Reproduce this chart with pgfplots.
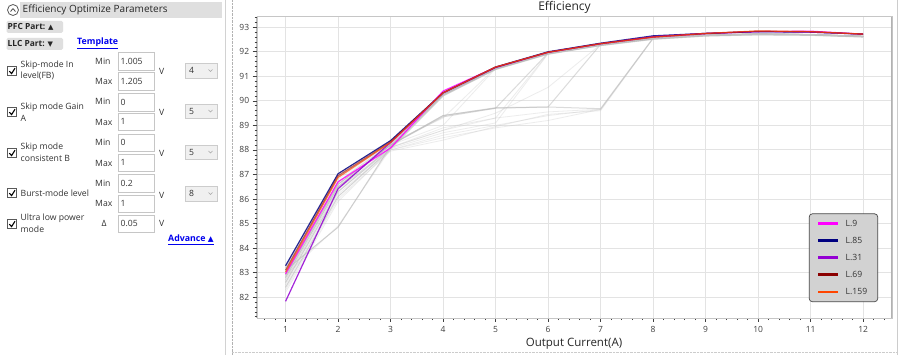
\documentclass[border=0pt]{standalone}
\usepackage{fontspec}
\usepackage{pgfplots}
\pgfplotsset{compat=1.18}
\setmainfont{Open Sans}
\newfontfamily\sym{DejaVu Sans}
\newcommand\fs[1]{\fontsize{#1}{#1}\selectfont}
\definecolor{cL9}{HTML}{FF00FF}
\definecolor{cL85}{HTML}{000080}
\definecolor{cL31}{HTML}{9400D3}
\definecolor{cL69}{HTML}{8B0000}
\definecolor{cL159}{HTML}{FF4500}
\definecolor{linkblue}{HTML}{0000EE}
\newcommand\chk[1]{%
  \draw[gray!70!black,fill=white] (7.5,#1-4.5) rectangle (16.5,#1+4.5);
  \draw[black,line width=1.1pt] (9.3,#1+0.2) -- (11.6,#1+2.6) -- (15,#1-2.8);}
\newcommand\tbox[3]{% y1 y2 text
  \draw[gray!45,fill=white] (118,#1) rectangle (154,#2);
  \node[anchor=west,font=\fs{8.6},text=black!80,inner sep=0] at (120.5,{(#1+#2)/2}) {#3};}
\newcommand\ddown[3]{% y1 y2 text
  \draw[gray!40,fill=gray!12] (185,#1) rectangle (217,#2);
  \node[anchor=west,font=\fs{8.6},text=black!80,inner sep=0] at (189,{(#1+#2)/2}) {#3};
  \draw[gray!70,line width=0.6pt] (208.5,{(#1+#2)/2-1}) -- (210.5,{(#1+#2)/2+1}) -- (212.5,{(#1+#2)/2-1});}
\newcommand\lbl[3]{\node[anchor=west,font=\fs{8.65},text=black!80,inner sep=0] at (#1,#2) {#3};}
\begin{document}
\begin{tikzpicture}
\path[use as bounding box] (0,0) rectangle (900pt,-355pt);
\begin{scope}[x=1pt,y=-1pt]
  \fill[white] (0,0) rectangle (900,355);
  % left panel
  \draw[gray!35] (225,0) -- (225,355);
  \draw[gray!60,densely dotted] (232,0) -- (232,355);
  \draw[gray!40,densely dotted] (232,352.5) -- (897,352.5);
  \draw[gray!40] (897,0) -- (897,355);
  \fill[gray!25] (20,2) rectangle (222,18);
  \draw[gray!70!black,line width=0.8pt] (13,10) circle (5.5);
  \draw[gray!70!black,line width=0.9pt] (10.5,11.5) -- (13,8.7) -- (15.5,11.5);
  \node[anchor=west,font=\fs{10},text=black!85,inner sep=0] at (22.5,10) {Efficiency Optimize Parameters};
  \fill[gray!25,rounded corners=1.5pt] (6.5,21) rectangle (63,33);
  \node[anchor=west,font=\bfseries\fs{8.4},text=black!85,inner sep=0] at (7.5,27) {PFC Part: {\sym\fs{7}▲}};
  \fill[gray!25,rounded corners=1.5pt] (6.5,38) rectangle (63,50);
  \node[anchor=west,font=\bfseries\fs{8.4},text=black!85,inner sep=0] at (7.5,44) {LLC Part: {\sym\fs{7}▼}};
  \node[anchor=west,font=\bfseries\fs{8.8},text=linkblue,inner sep=0] at (77,43) {\underline{Template}};
  % row 1
  \chk{71}
  \lbl{20.5}{65}{Skip-mode In}
  \lbl{20.5}{76}{level(FB)}
  \lbl{95}{61}{Min}\tbox{52}{70}{1.005}
  \lbl{95}{81}{Max}\tbox{72}{90}{1.205}
  \lbl{159}{71}{V}\ddown{63}{78}{4}
  % row 2
  \chk{112}
  \lbl{20.5}{107}{Skip mode Gain}
  \lbl{20.5}{118}{A}
  \lbl{95}{101}{Min}\tbox{93}{111}{0}
  \lbl{95}{122}{Max}\tbox{113}{130}{1}
  \lbl{159}{112}{V}\ddown{104}{118}{5}
  % row 3
  \chk{153}
  \lbl{20.5}{147}{Skip mode}
  \lbl{20.5}{158}{consistent B}
  \lbl{95}{142}{Min}\tbox{134}{151}{0}
  \lbl{95}{163}{Max}\tbox{154}{171}{1}
  \lbl{159}{153}{V}\ddown{145}{159}{5}
  % row 4
  \chk{193}
  \lbl{20.5}{193}{Burst-mode level}
  \lbl{95}{183}{Min}\tbox{174}{192}{0.2}
  \lbl{95}{203}{Max}\tbox{195}{212}{1}
  \lbl{159}{195}{V}\ddown{186}{201}{8}
  % row 5
  \chk{224}
  \lbl{20.5}{218}{Ultra low power}
  \lbl{20.5}{229}{mode}
  \lbl{101.5}{223}{Δ}\tbox{215}{232}{0.05}
  \lbl{159}{223}{V}
  \node[anchor=west,font=\bfseries\fs{8.8},text=linkblue,inner sep=0] at (168,240) {\underline{Advance {\sym\fs{7.5}▲}}};
  % titles
  \node[font=\fs{12},text=black!85,inner sep=0] at (564.5,7.5) {Efficiency};
  \node[font=\fs{11.5},text=black!85,inner sep=0] at (574,344) {Output Current(A)};
\end{scope}
\begin{axis}[
  at={(256.7pt,-318pt)}, anchor=south west, scale only axis,
  width=635.3pt, height=301.3pt,
  xmin=0.45, xmax=12.55, ymin=81.15, ymax=93.43,
  xtick={1,...,12}, ytick={82,...,93},
  minor xtick={0.6,0.8,...,12.5},
  minor ytick={81.2,81.4,...,93.4},
  tick pos=left, tick align=outside,
  major tick length=4pt, minor tick length=2.2pt,
  tick style={black!75, line width=0.6pt},
  grid=major, major grid style={gray!22, line width=0.9pt},
  axis line style={draw=gray!45},
  ticklabel style={font=\fs{8.5}, text=black!75},
  xticklabel style={yshift=-1pt},
  /pgf/number format/assume math mode=true,
  legend cell align=left,
  legend image code/.code={\draw[line width=2.6pt, opacity=1, draw opacity=1] (0pt,0pt) -- (20pt,0pt); \path (24pt,0pt);},
  legend style={at={(0.978,0.053)}, anchor=south east, fill=gray!35,
    draw=gray!55!black, line width=0.7pt, rounded corners=3pt, font=\fs{8.6},
    text=black!80, row sep=3.3pt, inner xsep=7.5pt, inner ysep=3pt,
    nodes={inner sep=3pt}},
  gray line/.style={forget plot, color=gray!55, opacity=0.5, line width=1pt},
  faint line/.style={forget plot, color=gray!45, opacity=0.32, line width=0.8pt},
]
% ---- background (gray) candidate curves ----
\addplot[gray line] coordinates {(1,83.2)(2,86.9)(3,88.3)(4,90.3)(5,91.33)(6,91.94)(7,92.29)(8,92.56)(9,92.68)(10,92.73)(11,92.71)(12,92.64)};
\addplot[gray line] coordinates {(1,83.0)(2,86.7)(3,88.25)(4,90.28)(5,91.32)(6,91.93)(7,92.28)(8,92.54)(9,92.67)(10,92.72)(11,92.7)(12,92.63)};
\addplot[gray line] coordinates {(1,82.8)(2,86.5)(3,88.2)(4,90.25)(5,91.3)(6,91.92)(7,92.27)(8,92.53)(9,92.66)(10,92.71)(11,92.69)(12,92.62)};
\addplot[gray line] coordinates {(1,82.6)(2,86.3)(3,88.1)(4,90.22)(5,91.29)(6,91.91)(7,92.26)(8,92.52)(9,92.65)(10,92.7)(11,92.68)(12,92.61)};
\addplot[gray line] coordinates {(1,82.4)(2,86.1)(3,88.05)(4,90.2)(5,91.28)(6,91.9)(7,92.25)(8,92.51)(9,92.64)(10,92.69)(11,92.67)(12,92.6)};
\addplot[faint line] coordinates {(1,82.2)(2,85.9)(3,88.0)(4,90.2)(5,91.27)(6,91.9)(7,92.25)(8,92.5)(9,92.64)(10,92.68)(11,92.67)(12,92.6)};
\addplot[gray line, color=gray!60, opacity=0.6] coordinates {(1,83.1)(2,84.85)(3,88.15)(4,90.25)(5,91.3)(6,91.93)(7,92.28)(8,92.54)(9,92.68)(10,92.73)(11,92.7)(12,92.63)};
\addplot[faint line] coordinates {(1,82.9)(2,84.9)(3,88.05)(4,90.22)(5,91.3)(6,91.92)(7,92.27)(8,92.53)(9,92.67)(10,92.72)(11,92.7)(12,92.62)};
\addplot[faint line] coordinates {(1,83.1)(2,86.8)(3,88.3)(4,89.3)(5,91.35)(6,91.95)(7,92.3)(8,92.56)(9,92.69)(10,92.74)(11,92.71)(12,92.64)};
\addplot[faint line] coordinates {(1,82.9)(2,86.6)(3,88.2)(4,89.0)(5,91.32)(6,91.94)(7,92.29)(8,92.55)(9,92.68)(10,92.73)(11,92.7)(12,92.63)};
\addplot[gray line] coordinates {(1,82.9)(2,86.6)(3,88.2)(4,89.35)(5,89.7)(6,91.95)(7,92.3)(8,92.55)(9,92.68)(10,92.73)(11,92.7)(12,92.63)};
\addplot[faint line] coordinates {(1,82.7)(2,86.4)(3,88.1)(4,88.9)(5,89.3)(6,91.93)(7,92.28)(8,92.54)(9,92.67)(10,92.72)(11,92.7)(12,92.62)};
\addplot[gray line] coordinates {(1,82.9)(2,86.6)(3,88.2)(4,89.4)(5,89.7)(6,89.75)(7,92.3)(8,92.55)(9,92.68)(10,92.73)(11,92.7)(12,92.63)};
\addplot[faint line] coordinates {(1,82.6)(2,86.3)(3,88.1)(4,88.8)(5,89.5)(6,90.55)(7,92.3)(8,92.55)(9,92.68)(10,92.73)(11,92.7)(12,92.63)};
\addplot[gray line] coordinates {(1,82.8)(2,86.5)(3,88.2)(4,89.4)(5,89.72)(6,89.75)(7,89.68)(8,92.55)(9,92.68)(10,92.72)(11,92.7)(12,92.62)};
\addplot[faint line] coordinates {(1,82.5)(2,86.2)(3,88.0)(4,88.6)(5,89.0)(6,89.4)(7,89.65)(8,92.55)(9,92.67)(10,92.72)(11,92.7)(12,92.62)};
\addplot[faint line] coordinates {(1,82.4)(2,86.1)(3,88.0)(4,88.5)(5,88.9)(6,89.2)(7,89.65)(8,92.55)(9,92.67)(10,92.72)(11,92.7)(12,92.62)};
\addplot[faint line] coordinates {(1,82.7)(2,86.4)(3,88.1)(4,88.8)(5,89.3)(6,89.55)(7,89.66)(8,92.55)(9,92.67)(10,92.72)(11,92.7)(12,92.62)};
\addplot[faint line] coordinates {(1,82.3)(2,86.0)(3,87.95)(4,88.4)(5,88.95)(6,89.45)(7,89.6)(8,92.55)(9,92.67)(10,92.72)(11,92.7)(12,92.62)};
\addplot[faint line] coordinates {(1,82.6)(2,86.3)(3,88.05)(4,88.7)(5,89.1)(6,91.92)(7,92.28)(8,92.54)(9,92.67)(10,92.72)(11,92.7)(12,92.62)};
% ---- highlighted curves ----
\addplot[cL9, line width=1.2pt, opacity=0.85] coordinates {(1,82.95)(2,86.7)(3,88.08)(4,90.4)(5,91.37)(6,91.98)(7,92.33)(8,92.6)(9,92.74)(10,92.82)(11,92.84)(12,92.72)};
\addlegendentry{L.9}
\addplot[cL85, line width=1.2pt, opacity=0.85] coordinates {(1,83.28)(2,87.03)(3,88.38)(4,90.33)(5,91.38)(6,92.0)(7,92.35)(8,92.65)(9,92.75)(10,92.82)(11,92.8)(12,92.72)};
\addlegendentry{L.85}
\addplot[cL31, line width=1.2pt, opacity=0.85] coordinates {(1,81.83)(2,86.42)(3,88.3)(4,90.32)(5,91.36)(6,91.98)(7,92.33)(8,92.62)(9,92.75)(10,92.83)(11,92.8)(12,92.72)};
\addlegendentry{L.31}
\addplot[cL69, line width=1.2pt, opacity=0.6] coordinates {(1,83.1)(2,86.95)(3,88.33)(4,90.33)(5,91.37)(6,91.98)(7,92.33)(8,92.6)(9,92.74)(10,92.84)(11,92.82)(12,92.72)};
\addlegendentry{L.69}
\addplot[cL159, line width=1.2pt, opacity=0.7] coordinates {(1,83.02)(2,86.88)(3,88.3)(4,90.33)(5,91.38)(6,91.98)(7,92.33)(8,92.6)(9,92.75)(10,92.85)(11,92.82)(12,92.72)};
\addlegendentry{L.159}
% axis border emphasis
\draw[black!75, line width=0.8pt] (rel axis cs:0,1) -- (rel axis cs:0,0) -- (rel axis cs:1,0);
\draw[gray!60, line width=1.6pt] (rel axis cs:1,0) -- (rel axis cs:1,1);
\end{axis}
\end{tikzpicture}
\end{document}
